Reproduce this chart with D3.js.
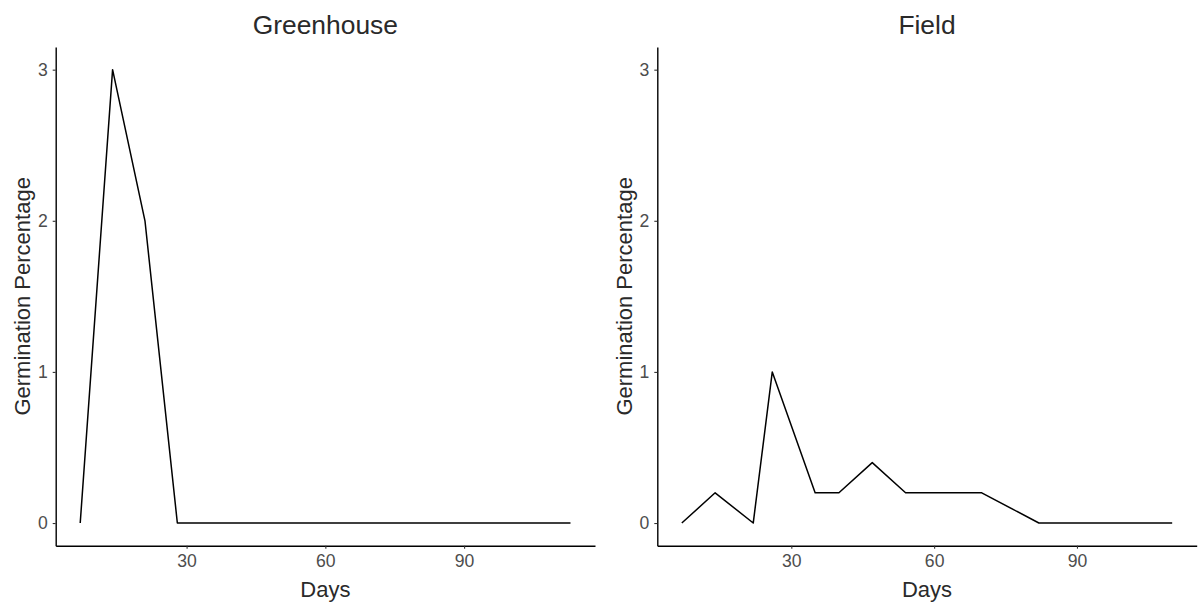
<!DOCTYPE html>
<html><head><meta charset="utf-8">
<script src="https://cdn.jsdelivr.net/npm/d3@7"></script>
<style>
body{margin:0;background:#fff;}
svg{display:block;font-family:"Liberation Sans",Arial,sans-serif;}
</style></head>
<body><svg id="chart" width="1200" height="608"></svg>
<script>
const panelTitles = ["Greenhouse", "Field"];
const greenhouseDays = [7, 14, 21, 28, 113];
const greenhouseValues = [0, 3, 2, 0, 0];
const fieldDays = [7, 14, 22, 26, 35, 40, 47, 54, 70, 82, 110];
const fieldValues = [0, 0.2, 0, 1, 0.2, 0.2, 0.4, 0.2, 0.2, 0, 0];
const xTicks = [30, 60, 90];
const yTicks = [0, 1, 2, 3];
const xLabel = "Days";
const yLabel = "Germination Percentage";

const svg = d3.select("#chart");
const panels = [
  {title: panelTitles[0], days: greenhouseDays, vals: greenhouseValues, x0: 55.7, x1: 595},
  {title: panelTitles[1], days: fieldDays, vals: fieldValues, x0: 657.3, x1: 1196.7}
];
const yTop = 47, yBot = 545.7;
const y = d3.scaleLinear().domain([-0.15, 3.15]).range([yBot, yTop]);

panels.forEach(p => {
  const ext = d3.extent(p.days);
  const pad = (ext[1] - ext[0]) * 0.05;
  const x = d3.scaleLinear().domain([ext[0] - pad, ext[1] + pad]).range([p.x0, p.x1]);
  const g = svg.append("g");

  const xa = g.append("g").attr("transform", `translate(0,${yBot})`)
    .call(d3.axisBottom(x).tickValues(xTicks).tickFormat(d3.format("d")).tickSize(3).tickPadding(6).tickSizeOuter(0));
  xa.select(".domain").attr("stroke", "#000").attr("stroke-width", 1.4);
  xa.selectAll(".tick line").attr("stroke", "#333").attr("stroke-width", 1.1);
  xa.selectAll("text").attr("font-size", 17.6).attr("fill", "#4d4d4d").attr("font-family", "Liberation Sans, Arial, sans-serif");

  const ya = g.append("g").attr("transform", `translate(${p.x0},0)`)
    .call(d3.axisLeft(y).tickValues(yTicks).tickFormat(d3.format("d")).tickSize(3).tickPadding(5).tickSizeOuter(0));
  ya.select(".domain").attr("stroke", "#000").attr("stroke-width", 1.4);
  ya.selectAll(".tick line").attr("stroke", "#333").attr("stroke-width", 1.1);
  ya.selectAll("text").attr("font-size", 17.6).attr("fill", "#4d4d4d").attr("font-family", "Liberation Sans, Arial, sans-serif");

  const line = d3.line().x((d, i) => x(p.days[i])).y(d => y(d));
  g.append("path").datum(p.vals).attr("d", line)
    .attr("fill", "none").attr("stroke", "#000").attr("stroke-width", 1.5).attr("stroke-linejoin", "round");

  g.append("text").attr("x", (p.x0 + p.x1) / 2).attr("y", 34).attr("text-anchor", "middle")
    .attr("font-size", 26.4).attr("fill", "#2a2a2a").text(p.title);
  g.append("text").attr("x", (p.x0 + p.x1) / 2).attr("y", 597).attr("text-anchor", "middle")
    .attr("font-size", 22).attr("fill", "#2a2a2a").text(xLabel);
  g.append("text").attr("transform", `translate(${p.x0 - 25.5},${(yTop + yBot) / 2}) rotate(-90)`)
    .attr("text-anchor", "middle").attr("font-size", 22).attr("fill", "#2a2a2a").text(yLabel);
});
</script></body></html>
